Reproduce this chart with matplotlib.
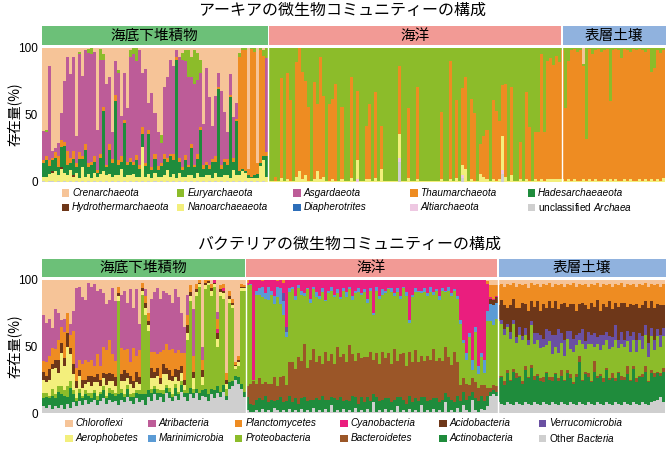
import numpy as np
import matplotlib
matplotlib.use("Agg")
import matplotlib.pyplot as plt
from matplotlib.patches import Rectangle

plt.rcParams['font.family'] = ['Liberation Sans', 'Noto Sans CJK JP', 'DejaVu Sans']
plt.rcParams['mathtext.fontset'] = 'custom'
plt.rcParams['mathtext.rm'] = 'Liberation Sans'
plt.rcParams['mathtext.it'] = 'Liberation Sans:italic'

# ---------------- Archaea data (percent per sample) ----------------
arc_names = ['Crenarchaeota', 'Euryarchaeota', 'Asgardaeota', 'Thaumarchaeota', 'Hadesarchaeaeota',
             'Hydrothermarchaeota', 'Nanoarchaeaeota', 'Diapherotrites', 'Altiarchaeota', 'unclassified Archaea']
arc_legend = ['Crenarchaeota', 'Euryarchaeota', 'Asgardaeota', 'Thaumarchaeota', 'Hadesarchaeaeota',
              'Hydrothermarchaeota', 'Nanoarchaeaeota', 'Diapherotrites', 'Altiarchaeota',
              r'unclassified $\it{Archaea}$']
arc_colors = ['#f6c498', '#8cbc2a', '#bd5c98', '#ee8c22', '#1f8c3c',
              '#6e3719', '#f3ef7c', '#2d6eb9', '#eec8e2', '#cfcfcf']
arc_regions = ['海底下堆積物', '海洋', '表層土壌']

# subseafloor sediment (Crenarchaeota = remainder)
a_sed_unc = [1, 0, 1, 1, 0, 1, 0, 1, 0, 1, 0, 1, 0, 1, 0, 1, 0, 1, 0, 1, 0, 1, 0, 1, 0, 1, 0, 1, 0, 1,
             0, 1, 0, 1, 0, 1, 0, 1, 0, 1, 0, 1, 0, 1, 0, 1, 0, 1, 0, 1, 0, 1, 0, 1, 0, 1, 0, 1, 0, 1,
             0, 1, 0, 1, 0, 1, 0, 1, 0, 1, 0, 1, 0, 1, 0]
a_sed_nano = [3, 4, 5, 6, 8, 4, 10, 6, 5, 8, 4, 6, 3, 10, 4, 5, 3, 6, 4, 5, 8, 4, 6, 3, 5, 4, 10, 3, 5, 4,
              6, 3, 4, 25, 4, 5, 3, 6, 4, 3, 5, 8, 4, 5, 3, 6, 4, 3, 5, 4, 3, 6, 4, 3, 5, 4, 3, 6, 4, 3,
              5, 4, 3, 8, 5, 4, 8, 6, 3, 2, 3, 2, 12, 15, 4]
a_sed_hydro = [0, 0, 0, 1, 0, 0, 1, 0, 0, 0, 1, 0, 0, 0, 0, 0, 0, 0, 0, 0, 0, 0, 0, 0, 0, 0, 0, 0, 0, 0,
               0, 0, 0, 0, 0, 0, 0, 0, 0, 0, 0, 0, 0, 0, 0, 0, 0, 0, 0, 0, 0, 0, 0, 0, 0, 0, 0, 0, 0, 0,
               0, 0, 0, 0, 0, 0, 0, 0, 0, 0, 0, 0, 0, 0, 0]
a_sed_hades = [10, 12, 6, 8, 10, 6, 15, 20, 8, 5, 12, 4, 14, 6, 20, 5, 10, 8, 3, 12, 45, 6, 18, 10, 55, 8, 5, 40, 8, 10,
               7, 12, 6, 10, 8, 30, 6, 10, 5, 8, 12, 6, 15, 10, 88, 8, 5, 12, 6, 20, 8, 10, 35, 6, 8, 5, 12, 8, 65, 6,
               10, 8, 60, 6, 40, 3, 2, 1, 2, 1, 2, 3, 2, 3, 15]
a_sed_thaum = [2, 3, 4, 2, 4, 8, 5, 3, 10, 4, 6, 3, 5, 2, 4, 3, 2, 4, 2, 3, 3, 2, 4, 3, 5, 3, 4, 2, 2, 3,
               2, 4, 3, 5, 2, 3, 2, 4, 3, 2, 4, 3, 2, 5, 2, 3, 2, 4, 2, 3, 2, 4, 2, 3, 2, 3, 2, 4, 2, 3,
               2, 4, 2, 3, 2, 85, 88, 90, 5, 95, 92, 8, 84, 75, 3]
a_sed_asg = [22, 18, 70, 5, 3, 10, 20, 45, 70, 62, 70, 20, 73, 60, 70, 82, 80, 78, 30, 70, 35, 60, 50, 20, 25, 65, 30, 35, 40, 75,
             80, 70, 85, 40, 70, 20, 55, 30, 25, 15, 50, 60, 70, 65, 5, 75, 80, 70, 65, 50, 60, 55, 40, 30, 70, 50, 25, 45, 10, 55,
             35, 20, 15, 30, 12, 0, 0, 0, 0, 0, 0, 0, 0, 0, 70]
a_sed_eury = [0, 2, 0, 0, 0, 0, 0, 0, 0, 0, 0, 0, 2, 0, 0, 3, 5, 0, 0, 8, 4, 0, 0, 0, 0, 2, 0, 0, 0, 5,
              8, 10, 0, 0, 0, 0, 0, 0, 0, 6, 0, 0, 0, 0, 0, 0, 5, 8, 20, 15, 25, 20, 10, 0, 0, 0, 0, 0, 0, 0,
              0, 0, 0, 0, 0, 3, 2, 2, 0, 1, 3, 0, 2, 4, 8]

# ocean (Euryarchaeota = remainder)
a_oce_thaum = [0, 0, 3, 0, 74, 0, 79, 60, 0, 85, 93, 80, 70, 55, 0, 72, 50, 91, 60, 0,
               57, 60, 72, 0, 54, 0, 0, 75, 0, 52, 0, 0, 40, 56, 0, 64, 0, 32, 0, 0,
               0, 0, 0, 50, 0, 0, 52, 0, 0, 69, 0, 0, 0, 0, 0, 0, 0, 50, 0, 0,
               88, 0, 58, 0, 57, 68, 0, 60, 50, 0, 22, 30, 37, 0, 59, 52, 43, 38, 69, 0,
               66, 0, 0, 28, 0, 65, 40, 0, 35, 36, 93, 36, 88, 90, 85, 92, 87]
a_oce_nano = [1, 1, 1, 1, 3, 1, 2, 1, 1, 4, 8, 2, 5, 1, 1, 2, 8, 2, 4, 1,
              1, 2, 1, 1, 2, 1, 1, 3, 1, 14, 1, 1, 2, 2, 1, 3, 1, 10, 1, 1,
              1, 1, 1, 18, 1, 1, 3, 1, 1, 2, 1, 1, 1, 1, 1, 1, 1, 2, 1, 1,
              2, 1, 3, 1, 8, 10, 1, 2, 1, 1, 6, 4, 2, 1, 2, 1, 2, 25, 4, 1,
              5, 1, 1, 2, 1, 2, 1, 1, 2, 1, 2, 1, 2, 2, 2, 2, 2]
a_oce_alti = [0, 0, 0, 0, 0, 0, 0, 0, 0, 0, 0, 0, 0, 0, 0, 0, 0, 0, 0, 0,
              0, 0, 0, 0, 0, 0, 0, 0, 0, 2, 0, 0, 0, 0, 0, 0, 0, 0, 0, 0,
              0, 0, 0, 3, 0, 0, 0, 0, 0, 0, 0, 0, 0, 0, 0, 0, 0, 0, 0, 0,
              0, 0, 0, 0, 2, 0, 0, 0, 0, 0, 0, 0, 0, 0, 0, 0, 0, 3, 0, 0,
              0, 0, 0, 0, 0, 0, 0, 0, 0, 0, 0, 0, 0, 0, 0, 0, 0]
a_oce_unc = [0, 0, 0, 0, 0, 0, 0, 0, 0, 0, 0, 0, 0, 0, 0, 0, 0, 0, 0, 0,
             0, 0, 0, 0, 0, 0, 0, 0, 0, 0, 0, 0, 0, 0, 0, 0, 0, 0, 0, 0,
             0, 0, 0, 15, 0, 0, 0, 0, 0, 0, 0, 0, 0, 0, 0, 0, 0, 0, 0, 0,
             0, 0, 0, 0, 3, 0, 0, 0, 0, 0, 0, 0, 0, 0, 0, 0, 0, 6, 0, 0,
             0, 0, 0, 0, 0, 0, 0, 0, 0, 0, 0, 0, 0, 0, 0, 0, 0]

# surface soil (Thaumarchaeota = remainder)
a_soil_eury = [2, 45, 10, 2, 1, 3, 2, 2, 68, 1, 5, 2, 1, 3, 2, 1, 40, 2, 1, 2,
               8, 1, 2, 3, 1, 2, 1, 2, 3, 1, 18, 15, 2, 4, 2]
a_soil_cren = [0, 0, 0, 0, 0, 0, 0, 12, 0, 0, 0, 0, 0, 0, 0, 0, 0, 0, 0, 0,
               0, 0, 0, 0, 0, 0, 0, 0, 0, 0, 0, 0, 0, 0, 0]
a_soil_nano = [2, 1, 2, 1, 2, 1, 1, 2, 1, 2, 1, 2, 1, 1, 2, 1, 2, 1, 2, 1,
               1, 2, 1, 2, 1, 1, 2, 1, 2, 1, 2, 1, 2, 1, 3]

# ---------------- Bacteria data ----------------
bac_names = ['Chloroflexi', 'Atribacteria', 'Planctomycetes', 'Cyanobacteria', 'Acidobacteria', 'Verrucomicrobia',
             'Aerophobetes', 'Marinimicrobia', 'Proteobacteria', 'Bacteroidetes', 'Actinobacteria', 'Other Bacteria']
bac_legend = ['Chloroflexi', 'Atribacteria', 'Planctomycetes', 'Cyanobacteria', 'Acidobacteria', 'Verrucomicrobia',
              'Aerophobetes', 'Marinimicrobia', 'Proteobacteria', 'Bacteroidetes', 'Actinobacteria',
              r'Other $\it{Bacteria}$']
bac_colors = ['#f6c498', '#bd5c98', '#ee8c22', '#ea1e7e', '#6e3719', '#6a50a2',
              '#f3ef7c', '#5b9bd5', '#8cbc2a', '#9b5628', '#1f8c3c', '#cfcfcf']

# subseafloor sediment (Chloroflexi = remainder)
b_sed_other = [5, 4, 6, 3, 5, 4, 6, 3, 7, 4, 8, 5, 9, 6, 10, 7, 8, 10, 6, 9, 11, 7, 10, 8, 9, 6, 10, 8, 12, 9,
               7, 11, 8, 10, 6, 12, 9, 14, 10, 12, 8, 15, 11, 9, 13, 10, 16, 12, 9, 14, 11, 15, 10, 13, 12, 9, 14, 11, 15, 12,
               16, 10, 18, 20, 25, 22, 18, 12]
b_sed_actino = [6, 8, 5, 10, 6, 12, 8, 10, 5, 15, 6, 4, 6, 5, 4, 6, 3, 5, 4, 5, 6, 4, 5, 6, 4, 8, 5, 4, 6, 3,
                5, 4, 6, 4, 8, 5, 6, 4, 5, 3, 6, 4, 5, 3, 6, 4, 5, 3, 6, 5, 4, 3, 5, 4, 6, 5, 4, 6, 5, 4,
                5, 3, 5, 4, 3, 5, 4, 4]
b_sed_proteo = [4, 3, 2, 5, 3, 4, 6, 4, 8, 5, 3, 2, 3, 2, 3, 2, 4, 2, 3, 2, 3, 2, 4, 3, 2, 70, 3, 2, 3, 2,
                3, 2, 3, 75, 60, 45, 3, 2, 3, 2, 3, 2, 3, 2, 3, 2, 3, 2, 40, 65, 3, 70, 80, 4, 75, 82, 70, 78, 30, 72,
                65, 5, 60, 55, 5, 8, 70, 76]
b_sed_cyano = [0, 0, 0, 0, 0, 0, 0, 0, 0, 0, 0, 0, 0, 0, 0, 0, 0, 0, 0, 0, 0, 0, 0, 0, 0, 0, 0, 0, 0, 0,
               0, 0, 0, 0, 0, 0, 0, 0, 0, 0, 0, 0, 0, 0, 0, 0, 0, 0, 0, 0, 0, 0, 0, 0, 0, 0, 0, 2, 3, 0,
               2, 0, 0, 0, 0, 0, 0, 0]
b_sed_aero = [10, 8, 12, 15, 20, 10, 25, 18, 30, 20, 12, 8, 10, 6, 5, 8, 5, 6, 10, 4, 6, 8, 5, 7, 5, 4, 6, 10, 5, 8,
              4, 6, 5, 3, 5, 4, 8, 6, 10, 5, 12, 8, 6, 10, 5, 8, 6, 4, 5, 4, 8, 3, 2, 6, 3, 2, 4, 2, 6, 3,
              4, 4, 3, 2, 2, 3, 2, 2]
b_sed_acido = [6, 5, 8, 4, 6, 10, 8, 6, 10, 5, 8, 5, 4, 6, 3, 5, 8, 4, 6, 5, 4, 8, 6, 5, 7, 2, 5, 8, 4, 6,
               5, 8, 5, 2, 4, 3, 8, 5, 6, 4, 8, 5, 7, 4, 6, 8, 5, 4, 6, 3, 5, 2, 1, 5, 2, 1, 2, 1, 4, 2,
               2, 3, 2, 2, 1, 2, 1, 1]
b_sed_plancto = [8, 10, 10, 12, 8, 15, 12, 20, 15, 10, 25, 10, 8, 12, 15, 10, 12, 8, 15, 10, 20, 18, 25, 15, 12, 5, 20, 15, 18, 10,
                 25, 12, 20, 4, 5, 6, 12, 15, 10, 20, 10, 18, 15, 20, 12, 15, 10, 20, 8, 5, 12, 4, 2, 8, 2, 1, 3, 2, 8, 3,
                 3, 5, 4, 3, 2, 3, 2, 1]
b_sed_atri = [35, 30, 28, 15, 30, 20, 5, 10, 0, 8, 15, 60, 55, 50, 45, 60, 55, 62, 48, 58, 40, 35, 30, 50, 45, 0, 40, 45, 35, 55,
              30, 50, 20, 0, 5, 0, 40, 45, 50, 40, 45, 38, 42, 35, 48, 40, 30, 20, 15, 0, 35, 0, 0, 10, 0, 0, 0, 0, 5, 0,
              0, 0, 0, 0, 0, 0, 0, 0]

# ocean (Proteobacteria = remainder)
b_oce_other = [2, 1, 1, 2, 1, 3, 1, 2, 1, 4, 2, 1, 2, 1, 3, 1, 2, 1, 3, 1, 2, 1, 4, 1, 2, 1, 3, 1, 6, 1,
               2, 1, 3, 1, 2, 1, 4, 1, 2, 1, 3, 1, 8, 1, 2, 1, 3, 1, 2, 1, 5, 1, 2, 1, 3, 1, 2, 1, 6, 1,
               2, 1, 3, 1, 2, 1, 8, 1, 2, 1, 4, 1, 6, 2, 1, 10, 2, 1, 3, 2, 5, 13, 14, 13]
b_oce_actino = [10, 6, 5, 8, 10, 7, 12, 6, 9, 5, 8, 11, 6, 8, 10, 7, 9, 6, 8, 11, 7, 9, 6, 10, 8, 12, 7, 9, 6, 10,
                8, 11, 6, 9, 7, 12, 8, 6, 10, 7, 9, 8, 6, 11, 7, 9, 8, 10, 6, 9, 7, 11, 8, 6, 10, 7, 9, 8, 6, 11,
                7, 9, 8, 10, 6, 9, 7, 11, 8, 7, 9, 8, 10, 8, 12, 6, 9, 8, 10, 7, 8, 3, 3, 3]
b_oce_bactero = [8, 15, 18, 12, 15, 12, 10, 14, 12, 18, 10, 15, 20, 12, 25, 30, 22, 35, 28, 40, 25, 30, 38, 27, 33, 24, 36, 29, 32, 26,
                 40, 30, 35, 28, 42, 31, 27, 38, 29, 34, 30, 37, 26, 33, 28, 36, 30, 34, 29, 38, 27, 32, 35, 28, 33, 30, 36, 29, 31, 27,
                 34, 30, 37, 28, 33, 29, 35, 30, 26, 38, 25, 12, 10, 12, 8, 10, 12, 10, 8, 12, 6, 3, 4, 4]
b_oce_marini = [0, 1, 0, 3, 5, 8, 4, 10, 3, 6, 8, 12, 10, 4, 3, 2, 3, 2, 3, 2, 1, 3, 2, 4, 2, 3, 1, 2, 3, 2,
                3, 1, 2, 4, 2, 3, 2, 3, 1, 2, 3, 2, 1, 3, 2, 4, 2, 1, 3, 2, 3, 2, 1, 3, 2, 2, 3, 1, 2, 3,
                2, 4, 2, 1, 3, 2, 1, 3, 2, 1, 2, 3, 2, 5, 3, 8, 4, 6, 3, 10, 8, 13, 15, 12]
b_oce_verruco = [0, 0, 0, 0, 0, 0, 0, 0, 0, 0, 0, 0, 6, 4, 0, 0, 0, 0, 0, 0, 0, 0, 0, 0, 0, 0, 0, 0, 0, 0,
                 0, 0, 0, 0, 0, 0, 0, 0, 0, 0, 0, 0, 0, 0, 0, 0, 0, 0, 0, 0, 0, 0, 0, 0, 0, 0, 0, 0, 0, 0,
                 0, 0, 0, 0, 0, 0, 0, 0, 0, 0, 0, 0, 0, 0, 0, 0, 0, 0, 0, 0, 0, 0, 0, 0]
b_oce_acido = [0, 0, 0, 0, 0, 0, 0, 0, 0, 0, 0, 0, 0, 0, 0, 0, 0, 0, 0, 0, 0, 0, 0, 0, 0, 0, 0, 0, 0, 0,
               0, 0, 0, 0, 0, 0, 0, 0, 0, 0, 0, 0, 0, 0, 0, 0, 0, 0, 0, 0, 0, 0, 0, 0, 0, 0, 0, 0, 0, 0,
               0, 0, 0, 0, 0, 0, 0, 0, 0, 0, 0, 0, 0, 0, 0, 0, 0, 0, 0, 0, 0, 4, 4, 4]
b_oce_cyano = [2, 3, 75, 8, 6, 4, 10, 5, 8, 12, 4, 6, 8, 35, 6, 5, 12, 4, 8, 10, 6, 14, 5, 9, 12, 6, 15, 8, 5, 11,
               7, 13, 6, 9, 5, 12, 8, 6, 10, 7, 14, 6, 25, 5, 12, 7, 8, 6, 6, 10, 6, 12, 5, 9, 30, 11, 6, 8, 8, 6,
               10, 5, 9, 7, 12, 6, 8, 5, 10, 7, 12, 30, 45, 55, 40, 60, 35, 65, 55, 60, 20, 1, 1, 1]
b_oce_plancto = [2, 0, 0, 0, 0, 1, 0, 0, 0, 0, 1, 0, 2, 0, 0, 0, 0, 0, 0, 0, 0, 0, 0, 0, 0, 0, 0, 0, 0, 0,
                 0, 0, 0, 0, 0, 0, 0, 0, 0, 0, 0, 0, 0, 0, 0, 0, 0, 0, 0, 0, 0, 0, 0, 0, 0, 0, 0, 0, 0, 0,
                 0, 0, 0, 0, 0, 0, 0, 0, 0, 0, 0, 0, 0, 0, 0, 0, 0, 0, 0, 0, 2, 9, 10, 8]
b_oce_chloro = [0, 0, 0, 0, 0, 0, 0, 0, 0, 0, 0, 0, 0, 0, 0, 0, 0, 0, 0, 0, 0, 0, 0, 0, 0, 0, 0, 0, 0, 0,
                0, 0, 0, 0, 0, 0, 0, 0, 0, 0, 0, 0, 0, 0, 0, 0, 0, 0, 0, 0, 0, 0, 0, 0, 0, 0, 0, 0, 0, 0,
                0, 0, 0, 0, 0, 0, 0, 0, 0, 0, 0, 0, 0, 0, 0, 0, 0, 0, 0, 0, 1, 4, 4, 4]

# surface soil (Proteobacteria = remainder)
b_soil_other = [8, 7, 6, 8, 7, 6, 8, 7, 6, 8, 7, 6, 8, 7, 6, 8, 7, 6, 8, 7, 6, 8, 7, 6, 8, 7, 6, 8,
                7, 6, 8, 7, 6, 8, 7, 6, 8, 7, 6, 8, 7, 6, 8, 7, 6, 8, 7, 6, 8, 7, 6, 8, 9, 10, 12, 8]
b_soil_actino = [18, 20, 15, 22, 17, 25, 18, 20, 16, 24, 19, 28, 17, 21, 18, 15, 23, 19, 16, 22, 18, 20, 17, 24, 18, 15, 21, 30,
                 17, 23, 19, 16, 25, 18, 21, 17, 24, 18, 20, 16, 23, 19, 17, 22, 18, 25, 16, 21, 19, 24, 17, 22, 18, 20, 16, 23]
b_soil_bactero = [2, 1, 3, 2, 1, 2, 4, 1, 2, 3, 1, 2, 3, 1, 2, 4, 1, 2, 3, 1, 2, 4, 1, 2, 3, 1, 2, 5,
                  1, 2, 3, 1, 8, 2, 1, 3, 2, 1, 4, 2, 1, 3, 2, 6, 1, 2, 3, 1, 2, 4, 1, 2, 3, 1, 2, 3]
b_soil_verruco = [2, 3, 4, 2, 5, 3, 4, 6, 3, 5, 4, 3, 8, 5, 10, 6, 12, 8, 15, 9, 18, 7, 12, 6, 14, 10, 8, 5,
                  11, 6, 9, 7, 10, 5, 12, 8, 6, 10, 7, 11, 6, 9, 5, 8, 12, 6, 9, 5, 10, 7, 11, 6, 8, 5, 9, 6]
b_soil_acido = [10, 15, 18, 12, 20, 16, 22, 14, 25, 18, 22, 15, 20, 24, 18, 26, 16, 22, 20, 25, 15, 22, 28, 18, 20, 26, 18, 22,
                20, 27, 17, 24, 20, 28, 18, 23, 19, 26, 21, 17, 25, 22, 28, 18, 24, 20, 27, 19, 23, 18, 26, 20, 24, 19, 22, 17]
b_soil_plancto = [15, 12, 14, 18, 15, 12, 16, 18, 13, 15, 17, 14, 16, 13, 18, 15, 17, 14, 16, 13, 18, 15, 12, 17, 14, 16, 18, 15,
                  13, 16, 17, 14, 16, 13, 18, 15, 16, 13, 17, 14, 16, 15, 12, 17, 14, 16, 13, 18, 15, 14, 16, 13, 17, 15, 14, 16]
b_soil_chloro = [4, 3, 5, 3, 4, 2, 5, 3, 4, 3, 6, 2, 4, 3, 5, 3, 4, 2, 5, 3, 4, 3, 5, 3, 4, 2, 5, 3,
                 4, 3, 5, 3, 4, 2, 5, 3, 4, 3, 5, 3, 4, 2, 5, 3, 4, 3, 5, 3, 4, 2, 5, 3, 4, 3, 5, 3]

# ---------------- layout helpers ----------------
W, H = 670, 457
fig = plt.figure(figsize=(W / 100, H / 100), dpi=100)


def fx(px):
    return px / W


def fy(py):
    return 1 - py / H


def draw_panel(ax, names, colors, blocks):
    # stacking: last legend entry at the bottom, first on top
    order = list(range(len(names)))[::-1]
    for x0, x1, data, rem in blocks:
        n = len(next(iter(data.values())))
        w = (x1 - x0) / n
        xs = x0 + w * np.arange(n)
        vals = {}
        for i in order:
            if i != rem:
                vals[i] = np.asarray(data.get(i, np.zeros(n)), float)
        vals[rem] = 100 - sum(vals.values())
        bottom = np.zeros(n)
        for i in order:
            v = vals[i]
            if np.any(v > 0):
                ax.bar(xs, v, width=w, bottom=bottom, align='edge', color=colors[i],
                       linewidth=0, antialiased=False)
            bottom += v


def setup_axes(ax, x0, x1):
    ax.set_xlim(x0, x1)
    ax.set_ylim(0, 100)
    for s in ax.spines.values():
        s.set_visible(False)
    ax.set_xticks([])
    ax.set_yticks([0, 50, 100])
    ax.tick_params(axis='y', length=0, pad=3, labelsize=8.5)
    ax.set_facecolor('white')


def strip(segs, y0, y1, labels, colors):
    for (a, b), lab, c in zip(segs, labels, colors):
        fig.add_artist(Rectangle((fx(a), fy(y1)), fx(b) - fx(a), fy(y0) - fy(y1),
                                 transform=fig.transFigure, color=c, lw=0))
        fig.text(fx((a + b) / 2), fy((y0 + y1) / 2), lab, ha='center', va='center',
                 fontsize=10.5, family=['Noto Sans CJK JP'])


def legend(labels, colors, xs, ys, ncol):
    for k, (lab, c) in enumerate(zip(labels, colors)):
        r, col = divmod(k, ncol)
        mx, yy = xs[col], ys[r]
        fig.add_artist(Rectangle((fx(mx), fy(yy + 4)), fx(7.5), 7.5 / H,
                                 transform=fig.transFigure, color=c, lw=0))
        style = 'normal' if '$' in lab else 'italic'
        fig.text(fx(mx + 10.5), fy(yy), lab, ha='left', va='center', fontsize=7.2,
                 style=style, family=['Liberation Sans'])


strip_cols = ['#6cc078', '#f29a95', '#90b2de']

# ---------------- top panel: archaea ----------------
ax1 = fig.add_axes([fx(42), fy(182), fx(665) - fx(42), fy(47.5) - fy(182)])
draw_panel(ax1, arc_names, arc_colors, [
    (42, 268, {9: a_sed_unc, 6: a_sed_nano, 5: a_sed_hydro, 4: a_sed_hades, 3: a_sed_thaum,
               2: a_sed_asg, 1: a_sed_eury}, 0),
    (268, 561, {9: a_oce_unc, 8: a_oce_alti, 6: a_oce_nano, 3: a_oce_thaum}, 1),
    (561, 665, {6: a_soil_nano, 1: a_soil_eury, 0: a_soil_cren}, 3),
])
setup_axes(ax1, 42, 665)
for xb in (268, 561.5):
    ax1.axvline(xb, color='white', lw=1.0)
strip([(42, 267.5), (269, 561), (562.5, 666)], 26, 45, arc_regions, strip_cols)
fig.text(fx(342), fy(10), 'アーキアの微生物コミュニティーの構成', ha='center', va='center',
         fontsize=11.5, family=['Noto Sans CJK JP'])
fig.text(fx(14), fy(114), '存在量(%)', ha='center', va='center', rotation=90,
         fontsize=10, family=['Noto Sans CJK JP'])
legend(arc_legend, arc_colors, [61.5, 177, 293, 410, 527.5], [193, 207], 5)

# ---------------- bottom panel: bacteria ----------------
ax2 = fig.add_axes([fx(42), fy(413), fx(665) - fx(42), fy(280) - fy(413)])
draw_panel(ax2, bac_names, bac_colors, [
    (42, 245.5, {11: b_sed_other, 10: b_sed_actino, 8: b_sed_proteo, 6: b_sed_aero, 4: b_sed_acido,
                 3: b_sed_cyano, 2: b_sed_plancto, 1: b_sed_atri}, 0),
    (245.5, 497.5, {11: b_oce_other, 10: b_oce_actino, 9: b_oce_bactero, 7: b_oce_marini, 5: b_oce_verruco,
                    4: b_oce_acido, 3: b_oce_cyano, 2: b_oce_plancto, 0: b_oce_chloro}, 8),
    (497.5, 665, {11: b_soil_other, 10: b_soil_actino, 9: b_soil_bactero, 5: b_soil_verruco,
                  4: b_soil_acido, 2: b_soil_plancto, 0: b_soil_chloro}, 8),
])
setup_axes(ax2, 42, 665)
for xb in (245.5, 497.5):
    ax2.axvline(xb, color='white', lw=1.0)
strip([(42, 244.5), (246, 497), (498.5, 666)], 259, 277, arc_regions, strip_cols)
fig.text(fx(350), fy(244), 'バクテリアの微生物コミュニティーの構成', ha='center', va='center',
         fontsize=11.5, family=['Noto Sans CJK JP'])
fig.text(fx(14), fy(346), '存在量(%)', ha='center', va='center', rotation=90,
         fontsize=10, family=['Noto Sans CJK JP'])
legend(bac_legend, bac_colors, [65, 148, 235, 340, 439, 538.5], [423, 438], 6)

fig.savefig('out.png', dpi=100, facecolor='white')
